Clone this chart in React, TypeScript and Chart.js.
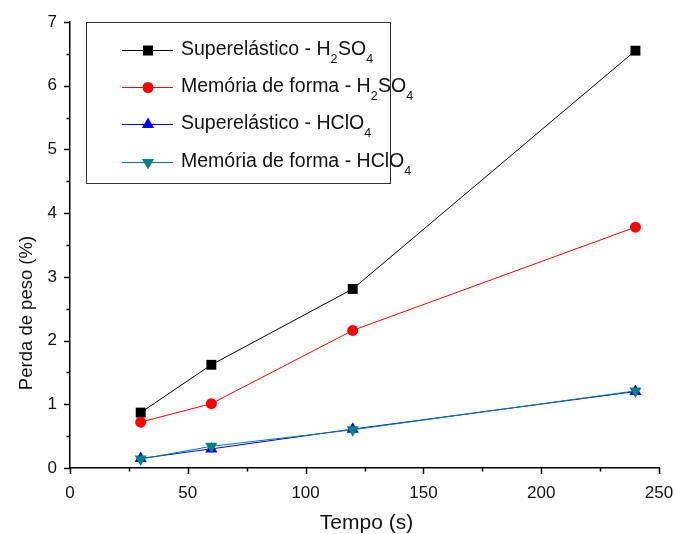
import React, { useEffect, useRef } from "react";
import { Chart, registerables } from "chart.js";

Chart.register(...registerables);

// ---- data ----
const tempo = [30, 60, 120, 240];
const superH2SO4 = [0.87, 1.62, 2.81, 6.55];
const memoriaH2SO4 = [0.72, 1.01, 2.16, 3.78];
const superHClO4 = [0.15, 0.3, 0.61, 1.2];
const memoriaHClO4 = [0.14, 0.34, 0.6, 1.21];

const xTitle = "Tempo (s)";
const yTitle = "Perda de peso (%)";

// legend labels: [text, isSubscript]
const legendLabels: [string, boolean][][] = [
  [["Superelástico - H", false], ["2", true], ["SO", false], ["4", true]],
  [["Memória de forma - H", false], ["2", true], ["SO", false], ["4", true]],
  [["Superelástico - HClO", false], ["4", true]],
  [["Memória de forma - HClO", false], ["4", true]],
];

const seriesColors = ["#000000", "#ff0000", "#0000ff", "#008080"];
const seriesMarkers = ["rect", "circle", "triangle", "triangleDown"];

const FONT = "'Liberation Sans', Arial, Helvetica, sans-serif";

function toPoints(ys: number[]) {
  return tempo.map((x, i) => ({ x, y: ys[i] }));
}

function drawMarker(ctx: CanvasRenderingContext2D, kind: string, x: number, y: number, color: string) {
  ctx.save();
  ctx.fillStyle = color;
  ctx.beginPath();
  if (kind === "rect") {
    ctx.rect(x - 5, y - 5, 10, 10);
  } else if (kind === "circle") {
    ctx.arc(x, y, 5.5, 0, Math.PI * 2);
  } else if (kind === "triangle") {
    const r = 7;
    ctx.moveTo(x, y - r);
    ctx.lineTo(x + r * 0.866, y + r * 0.5);
    ctx.lineTo(x - r * 0.866, y + r * 0.5);
    ctx.closePath();
  } else {
    const r = 7;
    ctx.moveTo(x, y + r);
    ctx.lineTo(x + r * 0.866, y - r * 0.5);
    ctx.lineTo(x - r * 0.866, y - r * 0.5);
    ctx.closePath();
  }
  ctx.fill();
  ctx.restore();
}

const decorPlugin = {
  id: "decor",
  afterDraw(chart: any) {
    const ctx: CanvasRenderingContext2D = chart.ctx;
    const xs = chart.scales.x;
    const ys = chart.scales.y;
    const area = chart.chartArea;
    ctx.save();
    // ticks (major + minor), outward
    ctx.strokeStyle = "#000";
    ctx.lineWidth = 1.5;
    for (let v = 0; v <= 250; v += 25) {
      const px = Math.round(xs.getPixelForValue(v)) + 0.5;
      const len = v % 50 === 0 ? 6 : 3.5;
      ctx.beginPath();
      ctx.moveTo(px, area.bottom);
      ctx.lineTo(px, area.bottom + len);
      ctx.stroke();
    }
    for (let v = 0; v <= 7; v += 0.5) {
      const py = Math.round(ys.getPixelForValue(v)) + 0.5;
      const len = v % 1 === 0 ? 6 : 3.5;
      ctx.beginPath();
      ctx.moveTo(area.left, py);
      ctx.lineTo(area.left - len, py);
      ctx.stroke();
    }

    // axis titles
    ctx.fillStyle = "#111";
    ctx.textAlign = "center";
    ctx.textBaseline = "middle";
    ctx.font = `21px ${FONT}`;
    ctx.fillText(xTitle, (area.left + area.right) / 2 + 2, 523);
    ctx.save();
    ctx.translate(27, 313);
    ctx.rotate(-Math.PI / 2);
    ctx.font = `18.5px ${FONT}`;
    ctx.fillText(yTitle, 0, 0);
    ctx.restore();

    // legend box
    const bx = 86.5, by = 22.5, bw = 304, bh = 161;
    ctx.fillStyle = "#fff";
    ctx.fillRect(bx, by, bw, bh);
    ctx.strokeStyle = "#333";
    ctx.lineWidth = 1;
    ctx.strokeRect(bx, by, bw, bh);
    const rowsY = [50, 87, 124, 162];
    legendLabels.forEach((parts, i) => {
      const y = rowsY[i];
      ctx.strokeStyle = seriesColors[i];
      ctx.lineWidth = 1;
      ctx.beginPath();
      ctx.moveTo(122, y + 0.5);
      ctx.lineTo(173, y + 0.5);
      ctx.stroke();
      drawMarker(ctx, seriesMarkers[i], 148, y + 0.5, seriesColors[i]);
      let tx = 181;
      ctx.textAlign = "left";
      ctx.textBaseline = "middle";
      ctx.fillStyle = "#111";
      parts.forEach(([t, sub]) => {
        ctx.font = sub ? `12.5px ${FONT}` : `19.5px ${FONT}`;
        ctx.fillText(t, tx, sub ? y + 10 : y);
        tx += ctx.measureText(t).width + (sub ? 0.5 : 0);
      });
    });
    ctx.restore();
  },
};

export default function App() {
  const canvasRef = useRef<HTMLCanvasElement | null>(null);

  useEffect(() => {
    const canvas = canvasRef.current;
    if (!canvas) return;
    const mk = (label: string, ys: number[], i: number, style: any, rotation: number, order: number) => ({
      label,
      data: toPoints(ys),
      borderColor: seriesColors[i],
      backgroundColor: seriesColors[i],
      borderWidth: 1,
      pointStyle: style,
      pointRotation: rotation,
      pointRadius: style === "rect" ? 7 : style === "circle" ? 5.5 : 7,
      pointBorderWidth: 0,
      pointBackgroundColor: seriesColors[i],
      showLine: true,
      tension: 0,
      order,
    });
    const chart = new Chart(canvas, {
      type: "scatter",
      data: {
        datasets: [
          mk("Superelástico - H2SO4", superH2SO4, 0, "rect", 0, 4),
          mk("Memória de forma - H2SO4", memoriaH2SO4, 1, "circle", 0, 3),
          mk("Superelástico - HClO4", superHClO4, 2, "triangle", 0, 2),
          mk("Memória de forma - HClO4", memoriaHClO4, 3, "triangle", 180, 1),
        ],
      },
      options: {
        animation: false,
        responsive: false,
        maintainAspectRatio: false,
        layout: { padding: { top: 22, right: 16, left: 0, bottom: 0 } },
        plugins: {
          legend: { display: false },
          tooltip: { enabled: false },
          title: { display: false },
        },
        scales: {
          x: {
            type: "linear",
            min: 0,
            max: 250,
            afterFit: (s: any) => {
              s.height = 66;
              s.paddingRight = 0;
              s.paddingLeft = 0;
            },
            ticks: {
              stepSize: 50,
              padding: 15,
              color: "#111",
              font: { family: FONT, size: 17 },
              maxRotation: 0,
            },
            grid: { display: false, drawTicks: false },
            border: { display: true, color: "#000", width: 1.5 },
          },
          y: {
            type: "linear",
            min: 0,
            max: 7,
            afterFit: (s: any) => {
              s.width = 70;
              s.paddingTop = 0;
              s.paddingBottom = 0;
            },
            ticks: {
              stepSize: 1,
              padding: 13,
              color: "#111",
              font: { family: FONT, size: 17 },
            },
            grid: { display: false, drawTicks: false },
            border: { display: true, color: "#000", width: 1.5 },
          },
        },
      },
      plugins: [decorPlugin],
    });
    return () => chart.destroy();
  }, []);

  return (
    <div style={{ position: "absolute", left: 0, top: 0, width: 675, height: 534, background: "#fff" }}>
      <canvas ref={canvasRef} width={675} height={534} style={{ width: 675, height: 534, display: "block" }} />
    </div>
  );
}
